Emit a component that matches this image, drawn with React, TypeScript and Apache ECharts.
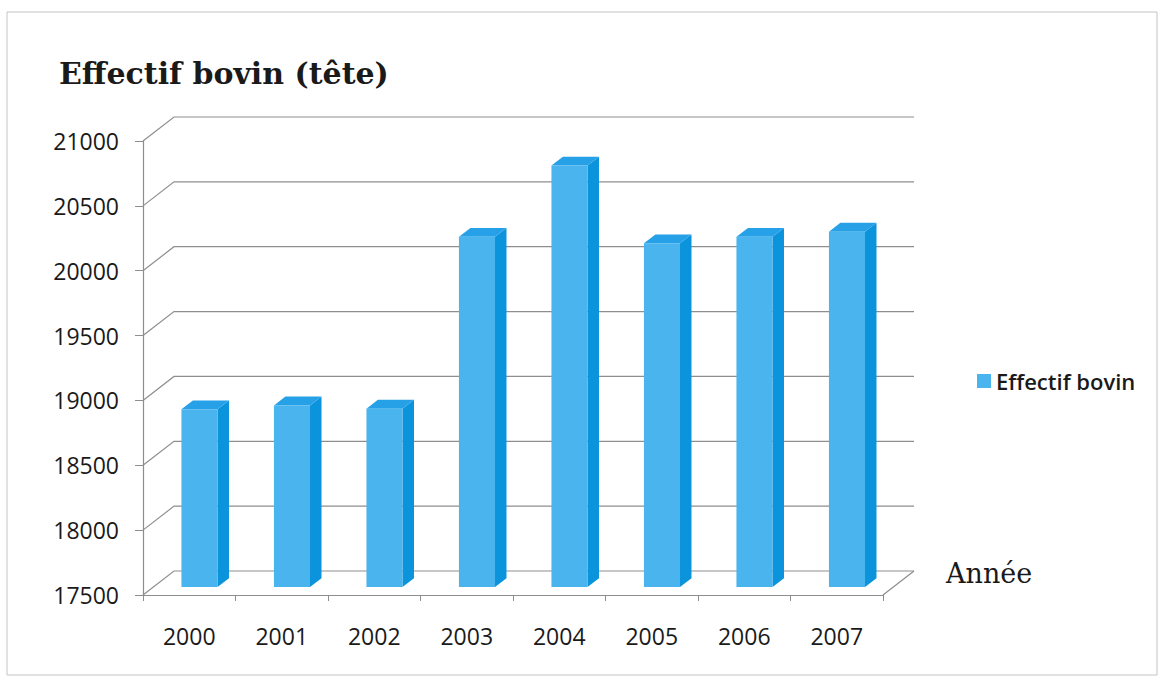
import React, { useEffect, useRef } from 'react';
import * as echarts from 'echarts';

// Cattle headcount per year
const years = ['2000', '2001', '2002', '2003', '2004', '2005', '2006', '2007'];
const effectif = [18870, 18900, 18875, 20200, 20750, 20150, 20200, 20240];
const yTicks = [17500, 18000, 18500, 19000, 19500, 20000, 20500, 21000];

const seriesName = 'Effectif bovin';

// Depth of the 3D box (offset of the back wall from the front plane)
const DEPTH_X = 31;
const DEPTH_Y = -24;
// Bars sit one third into the box and take roughly a third of its depth
const BAR_POS = 0.33;
const BAR_DEPTH = 0.37;
const BAR_WIDTH = 0.39;

const COL_FRONT = '#4ab4ef';
const COL_SIDE = '#0b93dc';
const COL_TOP = '#26a0e7';
const GRID_COL = '#8e8e8e';

const labelFont = '"Open Sans", "Liberation Sans", sans-serif';
const serifFont = '"DejaVu Serif", "Liberation Serif", serif';

function buildOption(): echarts.EChartsOption {
  const wallGrid = {
    type: 'custom',
    silent: true,
    z: 1,
    data: yTicks.map((v) => [0, v]),
    encode: { x: 0, y: 1 },
    renderItem: (params: any, api: any) => {
      const cs = params.coordSys;
      const v = api.value(1);
      const y = api.coord([0, v])[1];
      const x0 = cs.x;
      const x1 = cs.x + cs.width;
      const children: any[] = [
        {
          type: 'polyline',
          shape: {
            points: [
              [x0, y],
              [x0 + DEPTH_X, y + DEPTH_Y],
              [x1 + DEPTH_X, y + DEPTH_Y],
            ],
          },
          style: { stroke: GRID_COL, lineWidth: 1.2, fill: null },
        },
      ];
      if (v === yTicks[0]) {
        children.push({
          type: 'line',
          shape: { x1: x1, y1: y, x2: x1 + DEPTH_X, y2: y + DEPTH_Y },
          style: { stroke: GRID_COL, lineWidth: 1.2 },
        });
      }
      return { type: 'group', children };
    },
  };

  const bars = {
    type: 'custom',
    name: seriesName,
    z: 3,
    itemStyle: { color: COL_FRONT },
    data: effectif.map((v, i) => [i, v]),
    encode: { x: 0, y: 1 },
    renderItem: (params: any, api: any) => {
      const i = api.value(0);
      const v = api.value(1);
      const top = api.coord([i, v]);
      const base = api.coord([i, yTicks[0]]);
      const band = api.size([1, 0])[0];
      const w = band * BAR_WIDTH;
      const ox = DEPTH_X * BAR_POS;
      const oy = DEPTH_Y * BAR_POS;
      const bdx = DEPTH_X * BAR_DEPTH;
      const bdy = DEPTH_Y * BAR_DEPTH;
      const xl = top[0] - w / 2 + ox;
      const xr = top[0] + w / 2 + ox;
      const yt = top[1] + oy;
      const yb = base[1] + oy;
      return {
        type: 'group',
        children: [
          {
            type: 'polygon',
            shape: {
              points: [
                [xr, yt],
                [xr + bdx, yt + bdy],
                [xr + bdx, yb + bdy],
                [xr, yb],
              ],
            },
            style: { fill: COL_SIDE },
          },
          {
            type: 'polygon',
            shape: {
              points: [
                [xl, yt],
                [xl + bdx, yt + bdy],
                [xr + bdx, yt + bdy],
                [xr, yt],
              ],
            },
            style: { fill: COL_TOP },
          },
          {
            type: 'rect',
            shape: { x: xl, y: yt, width: w, height: yb - yt },
            style: { fill: COL_FRONT },
          },
        ],
      };
    },
  };

  return {
    animation: false,
    backgroundColor: '#ffffff',
    title: {
      text: 'Effectif bovin (tête)',
      left: 54,
      top: 53,
      textStyle: {
        fontFamily: serifFont,
        fontWeight: 'bold',
        fontSize: 30,
        color: '#1a1a1a',
      },
    },
    legend: {
      data: [seriesName],
      left: 972,
      top: 365,
      icon: 'rect',
      itemWidth: 14,
      itemHeight: 14,
      itemGap: 6,
      textStyle: {
        fontFamily: labelFont,
        fontWeight: 600,
        fontSize: 22,
        color: '#1a1a1a',
      },
    },
    grid: {
      left: 143,
      top: 141,
      width: 740,
      height: 454,
      containLabel: false,
    },
    xAxis: {
      type: 'category',
      data: years,
      boundaryGap: true,
      axisLine: { show: true, lineStyle: { color: GRID_COL, width: 1.2 } },
      axisTick: {
        show: true,
        alignWithLabel: false,
        length: 6,
        lineStyle: { color: GRID_COL },
      },
      axisLabel: {
        margin: 29,
        fontFamily: labelFont,
        fontSize: 23,
        color: '#1a1a1a',
      },
      splitLine: { show: false },
    },
    yAxis: {
      type: 'value',
      min: yTicks[0],
      max: yTicks[yTicks.length - 1],
      interval: 500,
      axisLine: { show: true, lineStyle: { color: GRID_COL, width: 1.2 } },
      axisTick: { show: true, length: 8, lineStyle: { color: GRID_COL } },
      axisLabel: {
        margin: 24,
        fontFamily: labelFont,
        fontSize: 23,
        color: '#1a1a1a',
        formatter: (v: number) => String(v),
      },
      splitLine: { show: false },
    },
    graphic: [
      {
        type: 'rect',
        shape: { x: 7, y: 12, width: 1150, height: 663 },
        style: { fill: 'none', stroke: '#c4c4c4', lineWidth: 1 },
        silent: true,
        z: -1,
      },
      {
        type: 'text',
        left: 946,
        top: 560,
        style: {
          text: 'Année',
          font: `27px ${serifFont}`,
          fill: '#1a1a1a',
        },
        silent: true,
      },
    ],
    series: [wallGrid as any, bars as any],
  };
}

export default function App() {
  const ref = useRef<HTMLDivElement>(null);
  useEffect(() => {
    document.body.style.margin = '0';
    const chart = echarts.init(ref.current!, null, { renderer: 'svg' });
    chart.setOption(buildOption());
    return () => chart.dispose();
  }, []);
  return <div ref={ref} style={{ width: 1163, height: 683 }} />;
}
